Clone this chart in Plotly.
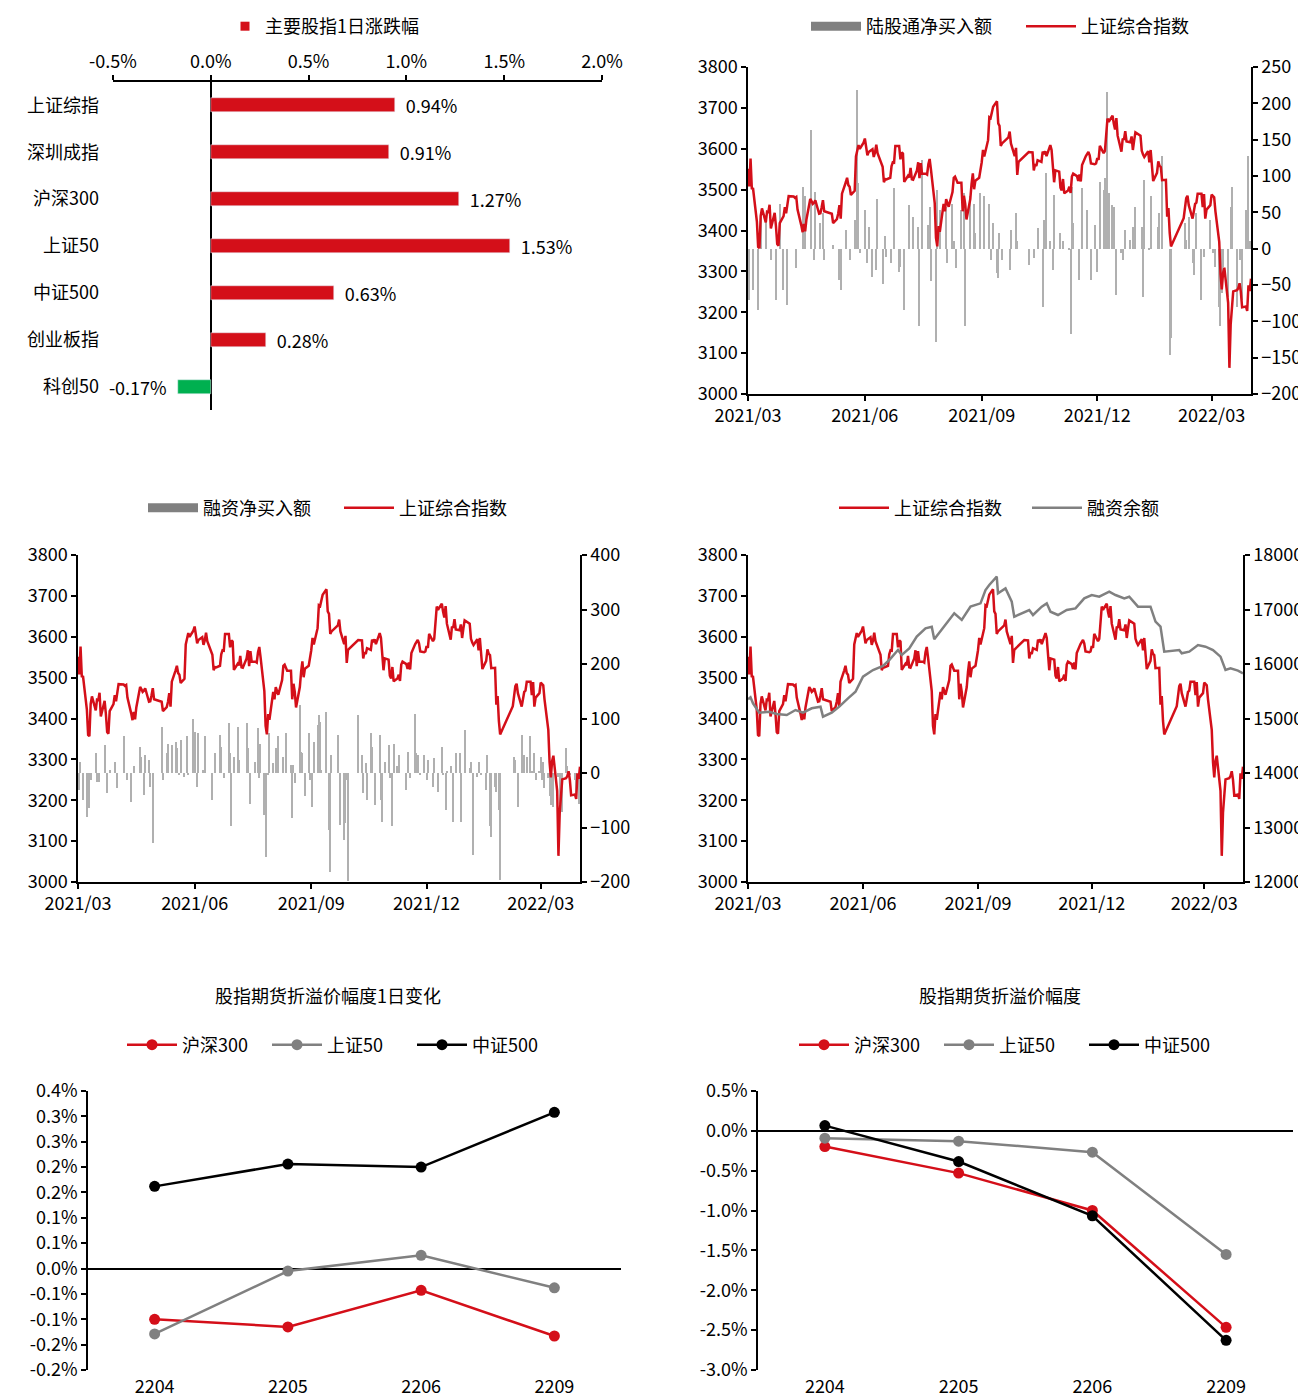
import plotly.graph_objects as go

FONT = "Noto Sans CJK SC"
RED = "#d40f19"
GREEN = "#00b050"
GREY = "#808080"
BAR_GREY = "#b0b0b0"
BLACK = "#000000"

# ---------------- Panel 1: 主要股指1日涨跌幅 ----------------
p1_names = ["上证综指", "深圳成指", "沪深300", "上证50", "中证500", "创业板指", "科创50"]
p1_changes = [0.94, 0.91, 1.27, 1.53, 0.63, 0.28, -0.17]
p1_tickvals = [-0.5, 0.0, 0.5, 1.0, 1.5, 2.0]
p1_ticktext = ["-0.5%", "0.0%", "0.5%", "1.0%", "1.5%", "2.0%"]

# ---------------- 上证综合指数 (daily) ----------------
idx_dates = [
    "2021-03-01", "2021-03-02", "2021-03-03", "2021-03-04", "2021-03-05", "2021-03-08", "2021-03-09", "2021-03-10",
    "2021-03-11", "2021-03-12", "2021-03-15", "2021-03-16", "2021-03-17", "2021-03-18", "2021-03-19", "2021-03-22",
    "2021-03-23", "2021-03-24", "2021-03-25", "2021-03-26", "2021-03-29", "2021-03-30", "2021-03-31",
    "2021-04-01", "2021-04-02", "2021-04-06", "2021-04-07", "2021-04-08", "2021-04-09", "2021-04-12", "2021-04-13",
    "2021-04-14", "2021-04-15", "2021-04-16", "2021-04-19", "2021-04-20", "2021-04-21", "2021-04-22", "2021-04-23",
    "2021-04-26", "2021-04-27", "2021-04-28", "2021-04-29", "2021-04-30",
    "2021-05-06", "2021-05-07", "2021-05-10", "2021-05-11", "2021-05-12", "2021-05-13", "2021-05-14", "2021-05-17",
    "2021-05-18", "2021-05-19", "2021-05-20", "2021-05-21", "2021-05-24", "2021-05-25", "2021-05-26", "2021-05-27",
    "2021-05-28", "2021-05-31",
    "2021-06-01", "2021-06-02", "2021-06-03", "2021-06-04", "2021-06-07", "2021-06-08", "2021-06-09", "2021-06-10",
    "2021-06-11", "2021-06-15", "2021-06-16", "2021-06-17", "2021-06-18", "2021-06-21", "2021-06-22", "2021-06-23",
    "2021-06-24", "2021-06-25", "2021-06-28", "2021-06-29", "2021-06-30",
    "2021-07-01", "2021-07-02", "2021-07-05", "2021-07-06", "2021-07-07", "2021-07-08", "2021-07-09", "2021-07-12",
    "2021-07-13", "2021-07-14", "2021-07-15", "2021-07-16", "2021-07-19", "2021-07-20", "2021-07-21", "2021-07-22",
    "2021-07-23", "2021-07-26", "2021-07-27", "2021-07-28", "2021-07-29", "2021-07-30",
    "2021-08-02", "2021-08-03", "2021-08-04", "2021-08-05", "2021-08-06", "2021-08-09", "2021-08-10", "2021-08-11",
    "2021-08-12", "2021-08-13", "2021-08-16", "2021-08-17", "2021-08-18", "2021-08-19", "2021-08-20", "2021-08-23",
    "2021-08-24", "2021-08-25", "2021-08-26", "2021-08-27", "2021-08-30", "2021-08-31",
    "2021-09-01", "2021-09-02", "2021-09-03", "2021-09-06", "2021-09-07", "2021-09-08", "2021-09-09", "2021-09-10",
    "2021-09-13", "2021-09-14", "2021-09-15", "2021-09-16", "2021-09-17", "2021-09-22", "2021-09-23", "2021-09-24",
    "2021-09-27", "2021-09-28", "2021-09-29", "2021-09-30",
    "2021-10-08", "2021-10-11", "2021-10-12", "2021-10-13", "2021-10-14", "2021-10-15", "2021-10-18", "2021-10-19",
    "2021-10-20", "2021-10-21", "2021-10-22", "2021-10-25", "2021-10-26", "2021-10-27", "2021-10-28", "2021-10-29",
    "2021-11-01", "2021-11-02", "2021-11-03", "2021-11-04", "2021-11-05", "2021-11-08", "2021-11-09", "2021-11-10",
    "2021-11-11", "2021-11-12", "2021-11-15", "2021-11-16", "2021-11-17", "2021-11-18", "2021-11-19", "2021-11-22",
    "2021-11-23", "2021-11-24", "2021-11-25", "2021-11-26", "2021-11-29", "2021-11-30",
    "2021-12-01", "2021-12-02", "2021-12-03", "2021-12-06", "2021-12-07", "2021-12-08", "2021-12-09", "2021-12-10",
    "2021-12-13", "2021-12-14", "2021-12-15", "2021-12-16", "2021-12-17", "2021-12-20", "2021-12-21", "2021-12-22",
    "2021-12-23", "2021-12-24", "2021-12-27", "2021-12-28", "2021-12-29", "2021-12-30", "2021-12-31",
    "2022-01-04", "2022-01-05", "2022-01-06", "2022-01-07", "2022-01-10", "2022-01-11", "2022-01-12", "2022-01-13",
    "2022-01-14", "2022-01-17", "2022-01-18", "2022-01-19", "2022-01-20", "2022-01-21", "2022-01-24", "2022-01-25",
    "2022-01-26", "2022-01-27", "2022-01-28",
    "2022-02-07", "2022-02-08", "2022-02-09", "2022-02-10", "2022-02-11", "2022-02-14", "2022-02-15", "2022-02-16",
    "2022-02-17", "2022-02-18", "2022-02-21", "2022-02-22", "2022-02-23", "2022-02-24", "2022-02-25", "2022-02-28",
    "2022-03-01", "2022-03-02", "2022-03-03", "2022-03-04", "2022-03-07", "2022-03-08", "2022-03-09", "2022-03-10",
    "2022-03-11", "2022-03-14", "2022-03-15", "2022-03-16", "2022-03-17", "2022-03-18", "2022-03-21", "2022-03-22",
    "2022-03-23", "2022-03-24", "2022-03-25", "2022-03-28", "2022-03-29", "2022-03-30", "2022-03-31", "2022-04-01",
]
idx_close = [
    3551, 3508, 3576, 3503, 3502, 3422, 3360, 3357,
    3436, 3454, 3420, 3446, 3445, 3463, 3405, 3443,
    3411, 3367, 3363, 3418, 3435, 3457, 3442,
    3466, 3484, 3483, 3480, 3482, 3451, 3412, 3396,
    3416, 3398, 3427, 3477, 3472, 3465, 3468, 3474,
    3441, 3442, 3457, 3474, 3447,
    3441, 3418, 3428, 3441, 3462, 3429, 3490, 3518,
    3529, 3511, 3507, 3487, 3497, 3581, 3593, 3609,
    3600, 3615,
    3625, 3597, 3584, 3592, 3599, 3580, 3591, 3610,
    3589, 3556, 3518, 3526, 3525, 3529, 3557, 3567,
    3566, 3607, 3607, 3574, 3591,
    3588, 3519, 3534, 3530, 3553, 3525, 3524, 3547,
    3567, 3528, 3565, 3539, 3539, 3537, 3562, 3575,
    3550, 3467, 3382, 3361, 3411, 3397,
    3465, 3447, 3477, 3466, 3458, 3494, 3529, 3532,
    3524, 3517, 3517, 3447, 3485, 3465, 3427, 3477,
    3514, 3540, 3501, 3522, 3529, 3544,
    3567, 3597, 3581, 3621, 3677, 3675, 3693, 3703,
    3716, 3662, 3656, 3607, 3613, 3628, 3642, 3613,
    3582, 3602, 3536, 3568,
    3592, 3591, 3547, 3562, 3558, 3572, 3568, 3593,
    3587, 3594, 3582, 3609, 3597, 3562, 3518, 3547,
    3544, 3505, 3498, 3526, 3491, 3498, 3507, 3492,
    3532, 3539, 3533, 3521, 3537, 3520, 3560, 3582,
    3589, 3592, 3584, 3564, 3562, 3564,
    3577, 3573, 3607, 3589, 3595, 3637, 3674, 3666,
    3681, 3661, 3647, 3675, 3632, 3593, 3625, 3622,
    3643, 3618, 3616, 3630, 3597, 3620, 3640,
    3632, 3595, 3586, 3580, 3594, 3567, 3597, 3555,
    3521, 3541, 3569, 3558, 3555, 3523, 3524, 3434,
    3455, 3394, 3361,
    3430, 3452, 3479, 3485, 3462, 3429, 3446, 3465,
    3468, 3490, 3490, 3457, 3489, 3429, 3451, 3462,
    3488, 3484, 3481, 3447, 3372, 3293, 3256, 3296,
    3309, 3223, 3064, 3170, 3215, 3251, 3254, 3259,
    3271, 3250, 3212, 3214, 3203, 3266, 3252, 3282,
]

# ---------------- 陆股通净买入额 (亿元) ----------------
nb_dates = [
    "2021-03-02", "2021-03-05", "2021-03-09", "2021-03-11", "2021-03-15", "2021-03-19", "2021-03-23", "2021-03-26",
    "2021-03-29", "2021-04-01", "2021-04-08", "2021-04-13", "2021-04-15", "2021-04-20", "2021-04-22", "2021-04-23",
    "2021-04-27", "2021-04-29", "2021-04-30", "2021-05-07", "2021-05-12", "2021-05-13", "2021-05-17", "2021-05-20",
    "2021-05-24", "2021-05-26", "2021-05-27", "2021-05-28", "2021-06-01", "2021-06-03", "2021-06-04", "2021-06-07",
    "2021-06-10", "2021-06-11", "2021-06-15", "2021-06-17", "2021-06-18", "2021-06-22", "2021-06-24", "2021-06-28",
    "2021-06-29", "2021-07-02", "2021-07-06", "2021-07-09", "2021-07-13",
    "2021-07-14", "2021-07-16", "2021-07-21", "2021-07-22", "2021-07-23", "2021-07-27", "2021-07-28", "2021-07-30",
    "2021-08-04", "2021-08-05", "2021-08-09", "2021-08-10", "2021-08-12", "2021-08-16", "2021-08-18", "2021-08-19",
    "2021-08-23", "2021-08-26", "2021-08-27", "2021-08-31", "2021-09-03", "2021-09-07", "2021-09-08", "2021-09-10",
    "2021-09-13", "2021-09-14", "2021-09-15", "2021-09-17", "2021-09-23", "2021-09-24", "2021-09-28", "2021-09-29",
    "2021-10-08", "2021-10-12", "2021-10-15", "2021-10-19", "2021-10-20", "2021-10-22", "2021-10-25", "2021-10-27",
    "2021-10-28", "2021-11-02", "2021-11-04", "2021-11-09", "2021-11-10", "2021-11-11", "2021-11-12", "2021-11-17",
    "2021-11-19",
    "2021-11-23", "2021-11-26", "2021-11-29", "2021-12-01", "2021-12-03", "2021-12-06", "2021-12-07", "2021-12-09",
    "2021-12-10", "2021-12-13", "2021-12-14", "2021-12-16", "2021-12-20", "2021-12-21", "2021-12-23", "2021-12-27",
    "2021-12-29", "2021-12-31", "2022-01-05", "2022-01-06", "2022-01-07", "2022-01-11", "2022-01-12", "2022-01-18",
    "2022-01-19", "2022-01-21", "2022-01-27", "2022-01-28", "2022-02-08", "2022-02-09", "2022-02-11", "2022-02-14",
    "2022-02-15", "2022-02-17", "2022-02-21", "2022-02-23", "2022-02-28", "2022-03-02", "2022-03-04", "2022-03-07",
    "2022-03-08", "2022-03-09", "2022-03-10", "2022-03-14", "2022-03-16", "2022-03-17", "2022-03-21", "2022-03-23",
    "2022-03-25", "2022-03-28", "2022-03-30", "2022-03-31",
]
nb_values = [
    -71, -57, -84, 44, 39, -16, -71, 62,
    -57, -78, -27, 85, 72, 163, -16, 78,
    35, 49, -16, 5, -43, -57, 26, -16,
    39, 218, 90, -6, 53, -20, 30, -39,
    -29, 69, -48, 17, -11, -20, 83, -32,
    -25, -84, 60, 44, 30,
    -107, 122, 33, 58, -45, -128, 81, 53,
    58, -20, 62, 10, -27, 53, 76, -107,
    72, 62, 21, 76, 72, 62, -16, 35,
    -34, -41, 21, -16, -29, 26, 49, 10,
    -22, -13, 28, -80, 39, 104, 10, -29,
    74, 21, 10, -2, -117, 85, 35, -43,
    83,
    53, -43, 33, -32, 92, 81, 97, 216,
    76, 60, 58, -64, -6, -16, 26, 12,
    30, 58, 30, -66, 94, -2, 72, 30,
    49, 127, -146, -123, 35, 12, 44, -20,
    -36, 49, -71, -11, 39, -6, -25, -80,
    -107, -61, -25, -66, 58, 85, -80, -16,
    -71, 53, 127, 10,
]

# ---------------- 融资净买入额 (亿元) ----------------
mg_dates = [
    "2021-03-02", "2021-03-03", "2021-03-05", "2021-03-08", "2021-03-10", "2021-03-11", "2021-03-15", "2021-03-16",
    "2021-03-18", "2021-03-22", "2021-03-24", "2021-03-26", "2021-03-30", "2021-04-01", "2021-04-06", "2021-04-09",
    "2021-04-12", "2021-04-14", "2021-04-19", "2021-04-20", "2021-04-22", "2021-04-23", "2021-04-26", "2021-04-27",
    "2021-04-29", "2021-05-06", "2021-05-07", "2021-05-10", "2021-05-11", "2021-05-14", "2021-05-17", "2021-05-18",
    "2021-05-20", "2021-05-21", "2021-05-24", "2021-05-26", "2021-05-27", "2021-05-31", "2021-06-01", "2021-06-03",
    "2021-06-04", "2021-06-08", "2021-06-09", "2021-06-15", "2021-06-17", "2021-06-21", "2021-06-22", "2021-06-24",
    "2021-06-28", "2021-06-29", "2021-06-30", "2021-07-02", "2021-07-05", "2021-07-06", "2021-07-12", "2021-07-13",
    "2021-07-15", "2021-07-19", "2021-07-21", "2021-07-22", "2021-07-23", "2021-07-26", "2021-07-27", "2021-07-29",
    "2021-07-30", "2021-08-02", "2021-08-04", "2021-08-06", "2021-08-10", "2021-08-12", "2021-08-16", "2021-08-17",
    "2021-08-18", "2021-08-19", "2021-08-23", "2021-08-24", "2021-08-25", "2021-08-27", "2021-08-30", "2021-08-31",
    "2021-09-02", "2021-09-03", "2021-09-06", "2021-09-07", "2021-09-08", "2021-09-09", "2021-09-13", "2021-09-15",
    "2021-09-16", "2021-09-17", "2021-09-22", "2021-09-24", "2021-09-27", "2021-09-28", "2021-09-29", "2021-09-30",
    "2021-10-08", "2021-10-11", "2021-10-12", "2021-10-14", "2021-10-15", "2021-10-18", "2021-10-19", "2021-10-21",
    "2021-10-25", "2021-10-26", "2021-10-27", "2021-10-29", "2021-11-01", "2021-11-02", "2021-11-04", "2021-11-05",
    "2021-11-08", "2021-11-09", "2021-11-15", "2021-11-16", "2021-11-18", "2021-11-22", "2021-11-23", "2021-11-24",
    "2021-11-26", "2021-11-29", "2021-12-01", "2021-12-02", "2021-12-06", "2021-12-07", "2021-12-10", "2021-12-13",
    "2021-12-14", "2021-12-16", "2021-12-17", "2021-12-20", "2021-12-22", "2021-12-24", "2021-12-27", "2021-12-28",
    "2021-12-31", "2022-01-04", "2022-01-05", "2022-01-07", "2022-01-10", "2022-01-11", "2022-01-13", "2022-01-17",
    "2022-01-18", "2022-01-20", "2022-01-21", "2022-01-24", "2022-01-25", "2022-01-27", "2022-01-28", "2022-02-08",
    "2022-02-09", "2022-02-11", "2022-02-14", "2022-02-16", "2022-02-18", "2022-02-21", "2022-02-22", "2022-02-24",
    "2022-02-25", "2022-02-28", "2022-03-01", "2022-03-02", "2022-03-03", "2022-03-04", "2022-03-07", "2022-03-08",
    "2022-03-09", "2022-03-10", "2022-03-11", "2022-03-15", "2022-03-16", "2022-03-18", "2022-03-21", "2022-03-22",
    "2022-03-24", "2022-03-28", "2022-03-29", "2022-03-31",
]
mg_values = [
    -31, 21, -50, -80, -65, -13, 36, -16,
    -16, 51, -37, 5, 21, -28, 67, -13,
    -53, 12, 48, 30, -40, 33, 24, -25,
    -129, 85, -13, 36, 54, 51, 57, 45,
    -4, 61, -7, 67, -4, 100, 76, -25,
    73, 5, 67, -50, 36, 70, 48, -10,
    91, 36, -98, 30, 85, 24, 91, 45,
    -56, 21, 82, -10, 54, -77, -154, -4,
    73, 18, 45, 67, 30, 73, 15, -83,
    15, -19, 125, 39, 36, -43, 73, -13,
    -62, 57, 88, 106, 94, 5, 112, -105,
    -181, 33, 70, -95, -123, -92, -13, -199,
    106, 33, -37, 18, -50, 73, 48, -59,
    70, -50, -89, 21, 51, -10, -98, 54,
    12, 33, -31, 39, -10, 109, 36, 33,
    -4, 33, -13, 24, -25, 27, -34, 48,
    -4, -68, 2, 12, -89, 36, 36, -89,
    79, 9, 21, -150, -7, 21, -4, -31,
    33, -98, -117, -25, -34, -68, -196, 30,
    24, -62, 70, 33, 30, 67, 2, 36,
    -13, 2, 30, -13, 21, -28, -10, -43,
    -59, -31, -62, -7, -56, -71, 45, 12,
    -4, -13, -37, -56,
]

# ---------------- 融资余额 (亿元) ----------------
bal_dates = [
    "2021-03-01", "2021-03-03", "2021-03-05", "2021-03-10", "2021-03-18", "2021-03-24", "2021-04-01", "2021-04-08",
    "2021-04-14", "2021-04-21", "2021-04-28", "2021-04-30", "2021-05-07", "2021-05-13", "2021-05-20", "2021-05-26",
    "2021-06-01", "2021-06-09", "2021-06-17", "2021-06-22", "2021-06-29", "2021-07-02", "2021-07-08", "2021-07-14",
    "2021-07-21", "2021-07-26", "2021-07-28", "2021-08-05", "2021-08-13", "2021-08-19", "2021-08-26", "2021-09-03",
    "2021-09-07", "2021-09-10", "2021-09-14", "2021-09-16", "2021-09-17", "2021-09-23", "2021-09-28", "2021-09-30",
    "2021-10-12", "2021-10-15", "2021-10-22", "2021-10-26", "2021-10-29", "2021-11-04", "2021-11-11", "2021-11-18",
    "2021-11-25", "2021-12-01", "2021-12-07", "2021-12-15", "2021-12-20", "2021-12-27", "2021-12-31", "2022-01-07",
    "2022-01-17", "2022-01-21", "2022-01-25", "2022-01-28", "2022-02-09", "2022-02-11", "2022-02-17", "2022-02-24",
    "2022-03-02", "2022-03-08", "2022-03-14", "2022-03-18", "2022-03-22", "2022-03-28", "2022-04-01",
]
bal_values = [
    15352, 15390, 15279, 15107, 15125, 15083, 15064, 15156,
    15107, 15187, 15217, 15034, 15107, 15217, 15370, 15492,
    15768, 15890, 15963, 16073, 16257, 16165, 16287, 16502,
    16655, 16685, 16453, 16685, 16930, 16808, 17052, 17113,
    17358, 17450, 17541, 17602, 17296, 17388, 17143, 16868,
    16991, 16899, 17052, 17113, 16960, 16899, 16991, 17021,
    17205, 17266, 17235, 17327, 17266, 17205, 17235, 17052,
    17052, 16777, 16685, 16226, 16257, 16196, 16226, 16349,
    16318, 16257, 16135, 15890, 15920, 15880, 15829,
]

date_tickvals = ["2021-03-01", "2021-06-01", "2021-09-01", "2021-12-01", "2022-03-01"]
date_ticktext = ["2021/03", "2021/06", "2021/09", "2021/12", "2022/03"]
date_range = ["2021-03-01", "2022-04-01"]

# ---------------- 股指期货折溢价 ----------------
fut_contracts = ["2204", "2205", "2206", "2209"]
chg_hs300 = [-0.100, -0.115, -0.043, -0.133]
chg_sz50 = [-0.129, -0.005, 0.026, -0.038]
chg_zz500 = [0.162, 0.206, 0.200, 0.308]
chg_tickvals = [-0.20, -0.15, -0.10, -0.05, 0.0, 0.05, 0.10, 0.15, 0.20, 0.25, 0.30, 0.35]
chg_ticktext = ["-0.2%", "-0.2%", "-0.1%", "-0.1%", "0.0%", "0.1%", "0.1%", "0.2%", "0.2%", "0.3%", "0.3%", "0.4%"]

lvl_hs300 = [-0.197, -0.530, -0.999, -2.465]
lvl_sz50 = [-0.092, -0.129, -0.267, -1.550]
lvl_zz500 = [0.066, -0.385, -1.065, -2.628]
lvl_tickvals = [-3.0, -2.5, -2.0, -1.5, -1.0, -0.5, 0.0, 0.5]
lvl_ticktext = ["-3.0%", "-2.5%", "-2.0%", "-1.5%", "-1.0%", "-0.5%", "0.0%", "0.5%"]

# ---------------- geometry helpers (screen pixels -> paper) ----------------
W, H, OFF = 1298, 1392, 8


def px(x):
    return (x - OFF) / W


def py(y):
    return 1 - (y - OFF) / H


def dom_x(a, b):
    return [px(a), px(b)]


def dom_y(top, bottom):
    return [py(bottom), py(top)]


TICKFONT = dict(family=FONT, size=18, color=BLACK)


def ax(**kw):
    base = dict(showgrid=False, zeroline=False, showline=True, linecolor=BLACK, linewidth=1.5,
                ticks="outside", ticklen=5, tickwidth=1.5, tickcolor=BLACK, tickfont=TICKFONT,
                automargin=False)
    base.update(kw)
    return base


DAY_MS = 86400000
fig = go.Figure()

# Panel 1
fig.add_trace(go.Bar(
    x=p1_changes, y=p1_names, orientation="h", width=0.3,
    marker=dict(color=[RED if v >= 0 else GREEN for v in p1_changes]),
    text=[("\u00a0\u00a0" + f"{v:.2f}%") if v >= 0 else (f"{v:.2f}%" + "\u00a0\u00a0") for v in p1_changes],
    textposition="outside", textfont=TICKFONT, constraintext="none", cliponaxis=False,
    showlegend=False, xaxis="x", yaxis="y"))
fig.add_trace(go.Scatter(x=[None], y=[None], mode="markers", name="主要股指1日涨跌幅",
                         marker=dict(symbol="square", size=9, color=RED),
                         legend="legend", xaxis="x", yaxis="y"))

# Panel 2
fig.add_trace(go.Bar(x=nb_dates, y=nb_values, width=DAY_MS * 0.9, marker=dict(color=BAR_GREY, line=dict(width=0)),
                     showlegend=False, xaxis="x2", yaxis="y2"))
fig.add_trace(go.Scatter(x=[None], y=[None], mode="lines", name="陆股通净买入额",
                         line=dict(color=GREY, width=9), legend="legend2", xaxis="x2", yaxis="y2"))
fig.add_trace(go.Scatter(x=idx_dates, y=idx_close, mode="lines", name="上证综合指数",
                         line=dict(color=RED, width=2.5), legend="legend2", xaxis="x2", yaxis="y3"))

# Panel 3
fig.add_trace(go.Bar(x=mg_dates, y=mg_values, width=DAY_MS * 0.9, marker=dict(color=BAR_GREY, line=dict(width=0)),
                     showlegend=False, xaxis="x3", yaxis="y4"))
fig.add_trace(go.Scatter(x=[None], y=[None], mode="lines", name="融资净买入额",
                         line=dict(color=GREY, width=9), legend="legend3", xaxis="x3", yaxis="y4"))
fig.add_trace(go.Scatter(x=idx_dates, y=idx_close, mode="lines", name="上证综合指数",
                         line=dict(color=RED, width=2.5), legend="legend3", xaxis="x3", yaxis="y5"))

# Panel 4
fig.add_trace(go.Scatter(x=idx_dates, y=idx_close, mode="lines", name="上证综合指数",
                         line=dict(color=RED, width=2.5), legend="legend4", xaxis="x4", yaxis="y6"))
fig.add_trace(go.Scatter(x=bal_dates, y=bal_values, mode="lines", name="融资余额",
                         line=dict(color=GREY, width=2.5), legend="legend4", xaxis="x4", yaxis="y7"))

# Panel 5
for name, vals, col in [("沪深300", chg_hs300, RED), ("上证50", chg_sz50, GREY), ("中证500", chg_zz500, BLACK)]:
    fig.add_trace(go.Scatter(x=fut_contracts, y=vals, mode="lines+markers", name=name,
                             line=dict(color=col, width=2.5), marker=dict(color=col, size=11),
                             legend="legend5", xaxis="x5", yaxis="y8"))
# Panel 6
for name, vals, col in [("沪深300", lvl_hs300, RED), ("上证50", lvl_sz50, GREY), ("中证500", lvl_zz500, BLACK)]:
    fig.add_trace(go.Scatter(x=fut_contracts, y=vals, mode="lines+markers", name=name,
                             line=dict(color=col, width=2.5), marker=dict(color=col, size=11),
                             legend="legend6", xaxis="x6", yaxis="y9"))


def leg(x_symbol_start, y, itemwidth=50, entrywidth=0, top=False):
    d = dict(x=px(x_symbol_start - 6), xref="container", yref="container",
             xanchor="left", orientation="h",
             font=dict(family=FONT, size=18, color=BLACK), bgcolor="rgba(0,0,0,0)",
             itemwidth=itemwidth, borderwidth=0)
    if top:
        d.update(y=py(y), yanchor="top")
    else:
        d.update(y=py(y), yanchor="middle")
    if entrywidth:
        d.update(entrywidth=entrywidth, entrywidthmode="pixels")
    return d


date_ax = dict(type="date", range=date_range, tickvals=date_tickvals, ticktext=date_ticktext)

fig.update_layout(
    width=W, height=H, margin=dict(l=0, r=0, t=0, b=0, autoexpand=False),
    paper_bgcolor="white", plot_bgcolor="white",
    font=dict(family=FONT, size=18, color=BLACK),
    barmode="overlay", bargap=0,
    # panel 1
    xaxis=ax(domain=dom_x(113, 602), anchor="y", side="top", range=[-0.5, 2.0],
             tickvals=p1_tickvals, ticktext=p1_ticktext,
             zeroline=True, zerolinecolor=BLACK, zerolinewidth=1.5),
    yaxis=dict(domain=dom_y(82, 410), anchor="x", type="category", autorange="reversed",
               showline=False, ticks="", showgrid=False, zeroline=False, tickfont=TICKFONT,
               ticklabelstandoff=13, automargin=False),
    # panel 2
    xaxis2=ax(domain=dom_x(748, 1251), anchor="y2", **date_ax),
    yaxis2=ax(domain=dom_y(67, 394), anchor="x2", side="right", range=[-200, 250], dtick=50),
    yaxis3=ax(overlaying="y2", anchor="x2", side="left", range=[3000, 3800], dtick=100),
    # panel 3
    xaxis3=ax(domain=dom_x(78, 580), anchor="y4", **date_ax),
    yaxis4=ax(domain=dom_y(555, 882), anchor="x3", side="right", range=[-200, 400], dtick=100),
    yaxis5=ax(overlaying="y4", anchor="x3", side="left", range=[3000, 3800], dtick=100),
    # panel 4
    xaxis4=ax(domain=dom_x(748, 1243), anchor="y6", **date_ax),
    yaxis6=ax(domain=dom_y(555, 882), anchor="x4", side="left", range=[3000, 3800], dtick=100),
    yaxis7=ax(overlaying="y6", anchor="x4", side="right", range=[12000, 18000], dtick=1000, tickformat="d"),
    # panel 5
    xaxis5=dict(domain=dom_x(88, 621), anchor="y8", type="category", range=[-0.5, 3.5],
                showline=False, ticks="", showgrid=False, zeroline=False, tickfont=TICKFONT,
                ticklabelstandoff=4, automargin=False),
    yaxis8=ax(domain=dom_y(1091, 1370), anchor="x5", range=[-0.20, 0.35],
              tickvals=chg_tickvals, ticktext=chg_ticktext,
              zeroline=True, zerolinecolor=BLACK, zerolinewidth=1.5),
    # panel 6
    xaxis6=dict(domain=dom_x(758, 1293), anchor="y9", type="category", range=[-0.5, 3.5],
                showline=False, ticks="", showgrid=False, zeroline=False, tickfont=TICKFONT,
                ticklabelstandoff=4, automargin=False),
    yaxis9=ax(domain=dom_y(1091, 1370), anchor="x6", range=[-3.0, 0.5],
              tickvals=lvl_tickvals, ticktext=lvl_ticktext,
              zeroline=True, zerolinecolor=BLACK, zerolinewidth=1.5),
    legend=leg(231, 8, itemwidth=30, top=True),
    legend2=leg(812, 8, entrywidth=150, top=True),
    legend3=leg(149, 508, entrywidth=131),
    legend4=leg(840, 508, entrywidth=128),
    legend5=leg(128, 1045, entrywidth=80),
    legend6=leg(800, 1045, entrywidth=80),
    annotations=[
        dict(text="股指期货折溢价幅度1日变化", x=px(328), y=py(995), xref="paper", yref="paper",
             showarrow=False, xanchor="center", yanchor="middle", font=dict(family=FONT, size=18, color=BLACK)),
        dict(text="股指期货折溢价幅度", x=px(1000), y=py(995), xref="paper", yref="paper",
             showarrow=False, xanchor="center", yanchor="middle", font=dict(family=FONT, size=18, color=BLACK)),
    ],
)

fig.write_html("out.html")
